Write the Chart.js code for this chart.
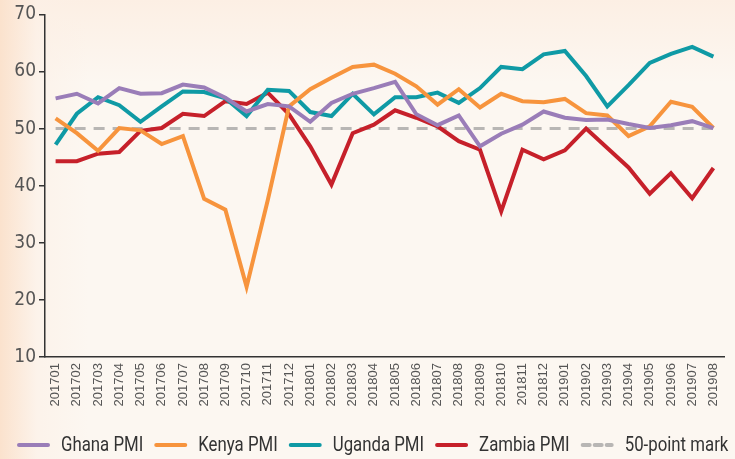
<!DOCTYPE html>
<html>
<head>
<meta charset="utf-8">
<script src="https://cdn.jsdelivr.net/npm/chart.js@4"></script>
<style>
  html, body { margin: 0; padding: 0; }
  body {
    width: 735px; height: 459px; overflow: hidden;
    background:
      linear-gradient(90deg, rgba(251,226,205,1) 0%, rgba(252,240,230,0.6) 5%, rgba(252,247,241,0) 12%),
      linear-gradient(180deg, #fcefe4 0%, #fcf7f1 18%, #fcf7f1 100%);
  }
  #wrap { position: relative; width: 735px; height: 459px; }
</style>
</head>
<body>
<div id="wrap"><canvas id="myChart"></canvas></div>
<script>
const months = ["201701","201702","201703","201704","201705","201706","201707","201708","201709","201710","201711","201712",
  "201801","201802","201803","201804","201805","201806","201807","201808","201809","201810","201811","201812",
  "201901","201902","201903","201904","201905","201906","201907","201908"];

const ghana = [55.3, 56.1, 54.4, 57.1, 56.1, 56.2, 57.7, 57.2, 55.4, 53.0, 54.3, 53.9,
  51.2, 54.5, 56.1, 57.1, 58.2, 52.5, 50.6, 52.3, 46.9, 49.1, 50.7, 53.0,
  51.9, 51.5, 51.6, 50.8, 50.1, 50.6, 51.3, 50.1];
const kenya = [51.8, 49.2, 46.1, 50.1, 49.7, 47.3, 48.7, 37.7, 35.8, 22.3, 37.5, 53.9,
  56.9, 58.9, 60.8, 61.2, 59.6, 57.4, 54.2, 56.9, 53.7, 56.1, 54.8, 54.6,
  55.2, 52.7, 52.3, 48.7, 50.4, 54.7, 53.8, 50.1];
const uganda = [47.2, 52.6, 55.5, 54.1, 51.2, 53.9, 56.5, 56.4, 55.3, 52.2, 56.8, 56.6,
  52.9, 52.2, 56.1, 52.5, 55.5, 55.5, 56.3, 54.5, 57.1, 60.8, 60.4, 63.0,
  63.6, 59.2, 53.9, 57.6, 61.5, 63.1, 64.3, 62.6];
const zambia = [44.3, 44.3, 45.6, 45.9, 49.6, 50.1, 52.6, 52.2, 54.8, 54.3, 56.3, 52.5,
  46.9, 40.2, 49.2, 50.7, 53.2, 51.9, 50.4, 47.8, 46.3, 35.5, 46.3, 44.6,
  46.2, 50.0, 46.6, 43.2, 38.6, 42.2, 37.8, 43.1];
const mark = months.map(() => 50);

const yTicks = [10, 20, 30, 40, 50, 60, 70];

function line(label, data, color) {
  return {
    label: label,
    data: data,
    borderColor: color,
    backgroundColor: color,
    borderWidth: 4,
    pointRadius: 0,
    tension: 0,
    fill: false,
  };
}

// narrow legend drawn by hand, text squeezed horizontally like a condensed face
const narrowLegend = {
  id: "narrowLegend",
  afterDraw(chart) {
    const c = chart.ctx;
    const squeeze = 0.8;
    const y = chart.height - 14;
    let x = 17;
    c.save();
    c.font = "21px Roboto, sans-serif";
    c.textBaseline = "middle";
    chart.data.datasets.forEach((ds) => {
      c.beginPath();
      c.setLineDash(ds.borderDash ? [7, 5] : []);
      c.lineWidth = 4;
      c.lineCap = "round";
      c.strokeStyle = ds.borderColor;
      c.moveTo(x + 2, y);
      c.lineTo(x + 31, y);
      c.stroke();
      x += 44;
      const w = c.measureText(ds.label).width * squeeze;
      c.save();
      c.translate(x, y + 1);
      c.scale(squeeze, 1);
      c.fillStyle = "#333";
      c.fillText(ds.label, 0, 0);
      c.restore();
      x += w + 11;
    });
    c.restore();
  },
};

const ctx = document.getElementById("myChart").getContext("2d");

new Chart(ctx, {
  type: "line",
  data: {
    labels: months,
    datasets: [
      line("Ghana PMI", ghana, "#9a7db8"),
      line("Kenya PMI", kenya, "#f7943d"),
      line("Uganda PMI", uganda, "#0f9aa5"),
      line("Zambia PMI", zambia, "#c6202a"),
      {
        label: "50-point mark",
        data: mark,
        borderColor: "#b8b6b4",
        backgroundColor: "#b8b6b4",
        borderWidth: 3,
        borderDash: [11, 8],
        pointRadius: 0,
        fill: false,
      },
    ],
  },
  options: {
    responsive: true,
    maintainAspectRatio: false,
    animation: false,
    layout: { padding: { top: 14, left: 0, right: 0, bottom: 44 } },
    plugins: {
      tooltip: { enabled: false },
      legend: { display: false },
    },
    scales: {
      x: {
        offset: true,
        grid: { drawOnChartArea: false, drawTicks: false },
        border: { color: "#333", width: 1.5 },
        ticks: {
          autoSkip: false,
          maxRotation: 90,
          minRotation: 90,
          padding: 6,
          color: "#555",
          font: { family: "'Liberation Sans', sans-serif", size: 13 },
        },
        afterFit: (scale) => { scale.height = 58; },
      },
      y: {
        min: 10,
        max: 70,
        afterBuildTicks: (scale) => { scale.ticks = yTicks.map((v) => ({ value: v })); },
        grid: { drawOnChartArea: false, drawTicks: true, tickLength: 6, color: "#333", lineWidth: 1.5 },
        border: { color: "#333", width: 1.5 },
        ticks: {
          padding: 3,
          color: "#555",
          font: { family: "'DejaVu Sans Condensed', sans-serif", size: 19 },
        },
        afterFit: (scale) => { scale.width = 45; },
      },
    },
  },
  plugins: [narrowLegend],
});
</script>
</body>
</html>
